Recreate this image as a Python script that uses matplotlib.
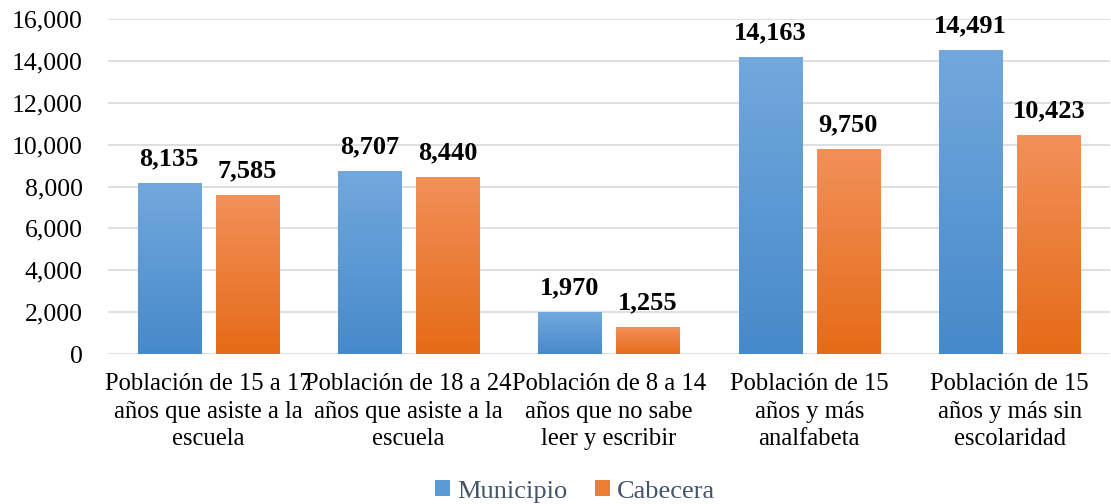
import matplotlib
matplotlib.use("Agg")
import matplotlib.pyplot as plt
import numpy as np
from matplotlib.colors import LinearSegmentedColormap
from matplotlib.patches import Patch
from matplotlib.ticker import FuncFormatter

categories = ["Población de 15 a 17\naños que asiste a la\nescuela",
              "Población de 18 a 24\naños que asiste a la\nescuela",
              "Población de 8 a 14\naños que no sabe\nleer y escribir",
              "Población de 15\naños y más\nanalfabeta",
              "Población de 15\naños y más sin\nescolaridad"]
municipio = [8135, 8707, 1970, 14163, 14491]
cabecera = [7585, 8440, 1255, 9750, 10423]
series_names = ["Municipio", "Cabecera"]

plt.rcParams['font.family'] = ['Liberation Serif', 'DejaVu Serif']

fig = plt.figure(figsize=(11.11, 5.04), dpi=100)
ax = fig.add_axes([0.0972, 0.2976, 0.9018, 0.6647])

x = np.arange(len(categories))
w = 0.315
off = 0.195
grads = [("#72a8dd", "#4689ca"), ("#f2905a", "#e56b17")]
mid = ["#5b9bd5", "#ed7d31"]

for vals, sgn, (ctop, cbot) in [(municipio, -1, grads[0]), (cabecera, 1, grads[1])]:
    bars = ax.bar(x + sgn * off, vals, w, color="none", zorder=3)
    cmap = LinearSegmentedColormap.from_list("g", [cbot, ctop])
    for b, v in zip(bars, vals):
        grad = np.linspace(0, 1, 256).reshape(-1, 1)
        ax.imshow(grad, cmap=cmap, origin="lower", aspect="auto",
                  extent=[b.get_x(), b.get_x() + b.get_width(), 0, b.get_height()],
                  zorder=3)
        ax.annotate(f"{v:,}", (b.get_x() + b.get_width() / 2, v), xytext=(0, 9.5),
                    textcoords="offset points", ha="center", va="bottom",
                    fontsize=19, fontweight="bold", color="black")

ax.set_xlim(-0.5, len(categories) - 0.5)
ax.set_ylim(0, 16000)
ax.set_yticks(np.arange(0, 16001, 2000))
ax.yaxis.set_major_formatter(FuncFormatter(lambda v, p: f"{int(v):,}"))
ax.set_xticks(x)
ax.set_xticklabels(categories, fontsize=17.7, linespacing=1.32)
ax.tick_params(axis="y", labelsize=18.5, length=0, pad=18)
ax.tick_params(axis="x", length=0, pad=14)
ax.grid(axis="y", color="#d9d9d9", linewidth=1.2, zorder=0)
for s in ax.spines.values():
    s.set_visible(False)
ax.set_axisbelow(True)

handles = [Patch(facecolor=mid[0]), Patch(facecolor=mid[1])]
leg = fig.legend(handles, series_names, loc="center", bbox_to_anchor=(0.5176, 0.025),
                 ncol=2, frameon=False, fontsize=19, handlelength=0.57, handleheight=0.57,
                 handletextpad=0.27, columnspacing=1.06, borderpad=0)
for t in leg.get_texts():
    t.set_color("#44546a")

fig.savefig("out.png", dpi=100)
